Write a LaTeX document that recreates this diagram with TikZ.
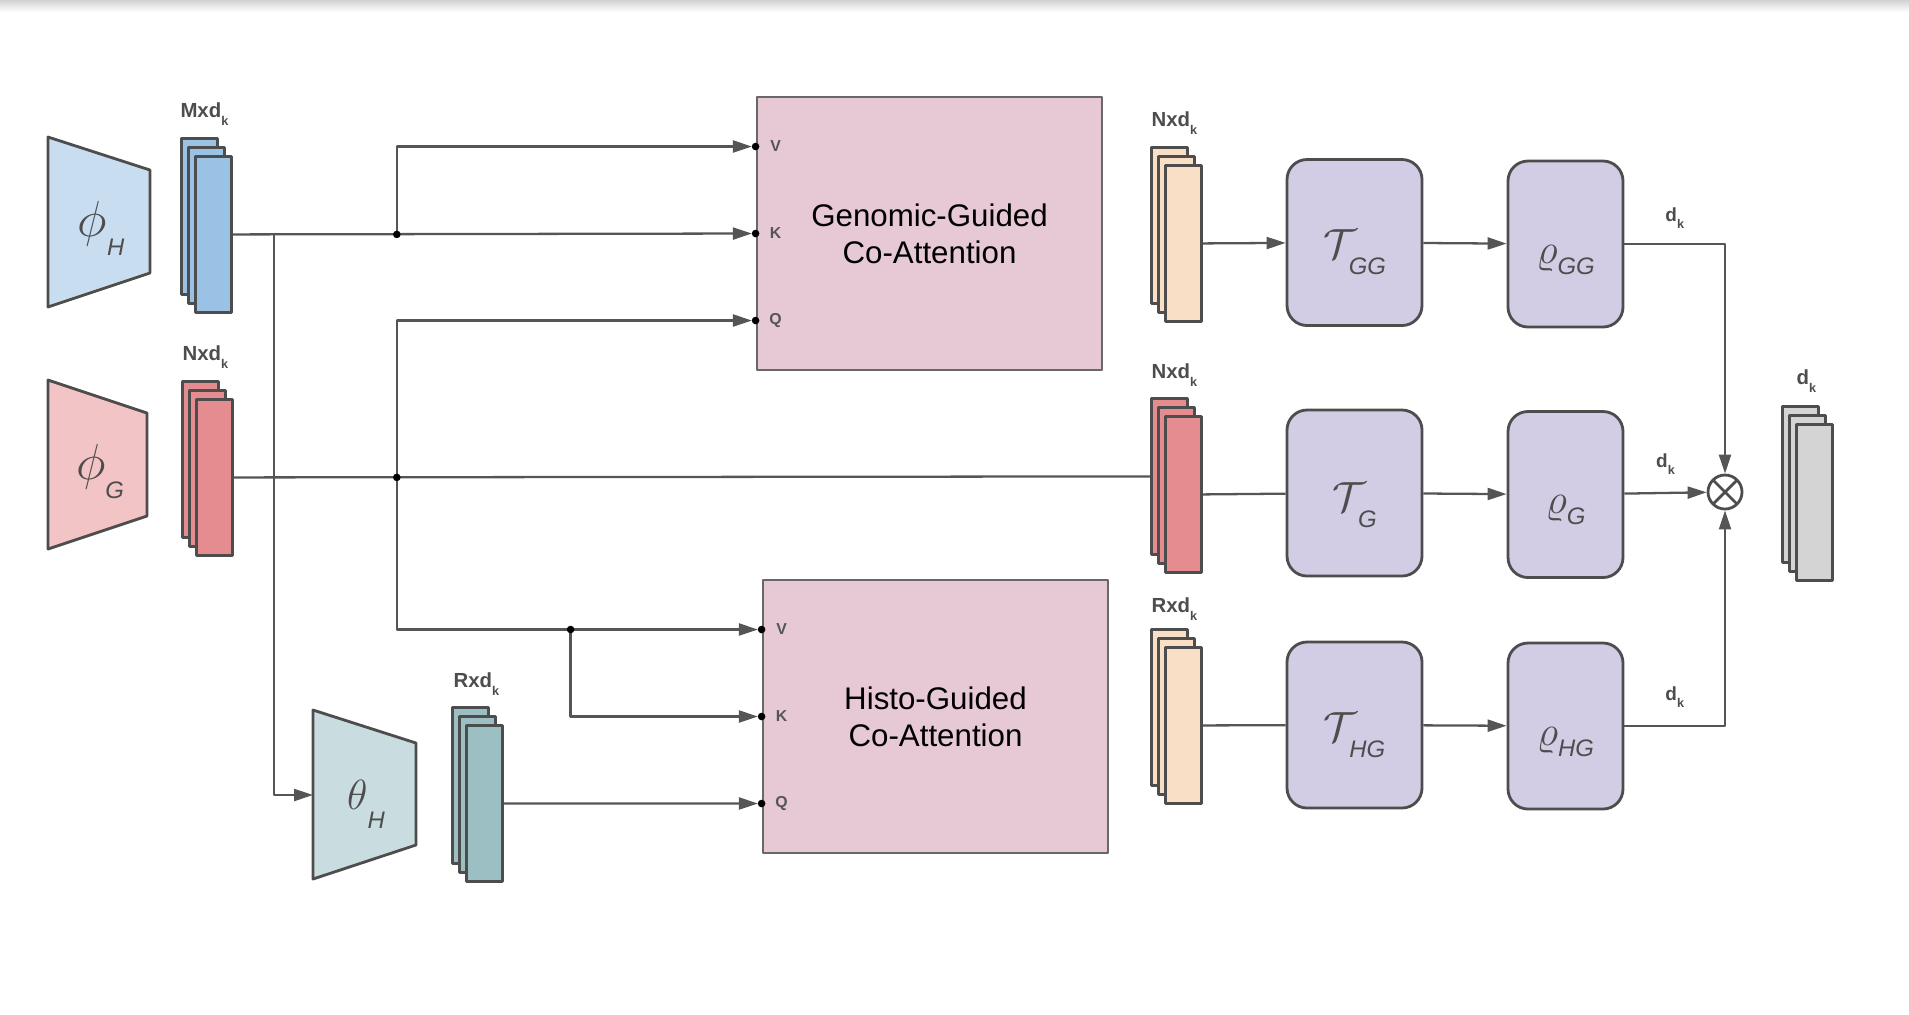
\documentclass[tikz,border=0pt]{standalone}
\usepackage{fontspec}
\setmainfont{Liberation Sans}
\usetikzlibrary{arrows.meta,calc,positioning}

\definecolor{linec}{HTML}{555555}
\definecolor{edgec}{HTML}{4D4D4D}
\definecolor{blutrap}{HTML}{C9DDF0}
\definecolor{blustk}{HTML}{9AC2E5}
\definecolor{redtrap}{HTML}{F2C4C6}
\definecolor{redstk}{HTML}{E48C8F}
\definecolor{teatrap}{HTML}{C9DDE1}
\definecolor{teastk}{HTML}{9BBFC3}
\definecolor{attc}{HTML}{E6C9D5}
\definecolor{peach}{HTML}{F9DFC6}
\definecolor{purp}{HTML}{D2CDE5}
\definecolor{graystk}{HTML}{D4D4D4}

% symbol with a lowered sans subscript
\newcommand\opsym[4]{{\fontsize{#1}{#1}\selectfont$#2$}\raisebox{#3}{\fontsize{6.8}{7}\selectfont\itshape #4}}
\newcommand\kk{\raisebox{-0.75mm}{\fontsize{3.6}{4}\selectfont k}}

\begin{document}
\begin{tikzpicture}[x=0.1mm, y=-0.1mm, line join=round, >={Triangle[length=1.9mm,width=1.2mm]},
    wire/.style={draw=linec, line width=0.65pt},
    trap/.style={draw=edgec, line width=0.8pt},
    layer/.style={draw=edgec, line width=0.8pt, minimum width=3.6mm, minimum height=15.6mm, inner sep=0pt, anchor=north west},
    coatt/.style={draw=edgec!85, fill=attc, line width=0.8pt, minimum width=34.5mm, minimum height=27.3mm, align=center, font=\fontsize{8.9}{10.6}\selectfont},
    opbox/.style={draw=edgec, fill=purp, line width=0.8pt, rounded corners=2mm, minimum height=16.6mm},
    oplbl/.style={text=edgec, inner sep=0pt},
    port/.style={font=\fontsize{4.5}{5}\selectfont\bfseries, text=linec, inner sep=0pt},
    dimlbl/.style={font=\fontsize{5.8}{6}\selectfont\bfseries, text=edgec, inner sep=0pt},
    dklbl/.style={font=\fontsize{5.4}{6}\selectfont\bfseries, text=edgec, inner sep=0pt}]
\useasboundingbox (0,0) rectangle (1909,1014);
\shade[top color=black!18, bottom color=white] (0,0) rectangle (1909,12);

% encoders
\draw[trap, fill=blutrap] (48,137) -- (150,170) -- (150,273) -- (48,307) -- cycle;
\node[oplbl] (phiH) at (101,228) {\opsym{14}{\phi}{-1.9mm}{H}};
\draw[trap, fill=redtrap] (48,380) -- (147,413) -- (147,516) -- (48,549) -- cycle;
\node[oplbl] (phiG) at (100,472) {\opsym{14}{\phi}{-1.9mm}{G}};
\draw[trap, fill=teatrap] (313,710) -- (416,743) -- (416,845) -- (313,879) -- cycle;
\node[oplbl] (thH) at (366,804) {\opsym{12.5}{\theta}{-1.9mm}{H}};
\coordinate (thIn) at (313,795);

% feature stacks
\foreach \i in {0,1,2} {
  \node[layer, fill=blustk] (mk\i) at (180+7*\i,137+9*\i) {};
  \node[layer, fill=redstk] (ng\i) at (181+7*\i,380+9*\i) {};
  \node[layer, fill=teastk] (rh\i) at (451+7*\i,706+9*\i) {};
  \node[layer, fill=peach] (ngg\i) at (1150+7*\i,146+9*\i) {};
  \node[layer, fill=redstk] (ngm\i) at (1150+7*\i,397+9*\i) {};
  \node[layer, fill=peach] (rhg\i) at (1150+7*\i,628+9*\i) {};
  \node[layer, fill=graystk] (fin\i) at (1781+7*\i,405+9*\i) {};
}
\node[dimlbl] (mklbl) at ($(mk0.north)+(5,-23)$) {Mxd\kk};
\node[dimlbl] (nglbl) at ($(ng0.north)+(5,-23)$) {Nxd\kk};
\node[dimlbl] (rhlbl) at ($(rh0.north)+(6,-22)$) {Rxd\kk};
\node[dimlbl] (ngglbl) at ($(ngg0.north)+(5,-23)$) {Nxd\kk};
\node[dimlbl] (ngmlbl) at ($(ngm0.north)+(5,-22)$) {Nxd\kk};
\node[dimlbl] (rhglbl) at ($(rhg0.north)+(5,-19)$) {Rxd\kk};
\node[dimlbl] (finlbl) at ($(fin0.north)+(6,-24)$) {d\kk};

% co-attention blocks
\node[coatt] (gga) at (929.5,233.5) {Genomic-Guided\\Co-Attention};
\node[coatt] (hga) at (935.5,716.5) {Histo-Guided\\Co-Attention};
\coordinate (ggV) at ($(gga.west)+(0,-87)$);
\coordinate (ggK) at (gga.west);
\coordinate (ggQ) at ($(gga.west)+(0,87)$);
\coordinate (hgV) at ($(hga.west)+(0,-87)$);
\coordinate (hgK) at (hga.west);
\coordinate (hgQ) at ($(hga.west)+(0,87)$);
\node[port] (ggVl) at ($(ggV)+(20,0)$) {V};
\node[port] (ggKl) at ($(ggK)+(20,0)$) {K};
\node[port] (ggQl) at ($(ggQ)+(20,0)$) {Q};
\node[port] (hgVl) at ($(hgV)+(20,0)$) {V};
\node[port] (hgKl) at ($(hgK)+(20,0)$) {K};
\node[port] (hgQl) at ($(hgQ)+(20,0)$) {Q};

% transformers and heads
\node[opbox, minimum width=13.5mm] (TGG) at (1354.5,242.5) {};
\node[opbox, minimum width=13.5mm] (TG) at (1354.5,493) {};
\node[opbox, minimum width=13.5mm] (THG) at (1354.5,725) {};
\node[opbox, minimum width=11.5mm] (rGG) at (1565.5,244) {};
\node[opbox, minimum width=11.5mm] (rG) at (1565.5,494.5) {};
\node[opbox, minimum width=11.5mm] (rHG) at (1565.5,726) {};
\node[oplbl] (TGGl) at ($(TGG)+(0,10)$) {\opsym{12.5}{\mathcal{T}}{-1.6mm}{\hspace{-0.8mm}GG}};
\node[oplbl] (TGl) at ($(TG)+(0,12)$) {\opsym{12.5}{\mathcal{T}}{-1.6mm}{\hspace{-0.8mm}G}};
\node[oplbl] (THGl) at ($(THG)+(0,10)$) {\opsym{12.5}{\mathcal{T}}{-1.6mm}{\hspace{-0.8mm}HG}};
\node[oplbl] (rGGl) at ($(rGG)+(0,16)$) {\opsym{12}{\varrho}{-1.1mm}{GG}};
\node[oplbl] (rGl) at ($(rG)+(0,16)$) {\opsym{12}{\varrho}{-1.1mm}{G}};
\node[oplbl] (rHGl) at ($(rHG)+(0,16)$) {\opsym{12}{\varrho}{-1.1mm}{HG}};

\node[circle, draw=edgec, line width=0.8pt, minimum size=3.4mm, inner sep=0pt,
  path picture={\draw[edgec, line width=0.8pt] (path picture bounding box.north west) -- (path picture bounding box.south east)
  (path picture bounding box.north east) -- (path picture bounding box.south west);}] (mul) at (1725,492) {};

% wiring on the left
\coordinate (j0) at ($(mk2.east)+(41,0)$);
\coordinate (j1) at ($(mk2.east)+(164,0)$);
\coordinate (j2) at ($(ng2.east)+(163,0)$);
\coordinate (j3) at ($(hgV)+(-191,0)$);
\draw[wire,->,shorten >=0.37mm] (mk2.east) -- (ggK);
\draw[wire,->,shorten >=0.37mm] (j1) |- (ggV);
\draw[wire,->] (j0) |- (thIn);
\draw[wire] (ng2.east) -- (ngm0.west);
\draw[wire,->,shorten >=0.37mm] (j2) |- (ggQ);
\draw[wire,->,shorten >=0.37mm] (j2) |- (hgV);
\draw[wire,->,shorten >=0.37mm] (j3) |- (hgK);
\draw[wire,->,shorten >=0.37mm] (rh2.east) -- (hgQ);
\foreach \p in {j1,j2,j3,ggV,ggK,ggQ,hgV,hgK,hgQ} \fill (\p) circle (0.38mm);

% wiring on the right
\draw[wire,->] (ngg2.east) -- (TGG);
\draw[wire,->] (TGG) -- (rGG);
\draw[wire,->] (rGG) -| node[dklbl, pos=0.25, above=1.4mm] (dk1) {d\kk} (mul);
\draw[wire] (ngm2.east) -- (TG);
\draw[wire,->] (TG) -- (rG);
\draw[wire,->] (rG) -- node[dklbl, above=1.7mm] (dk2) {d\kk} (mul);
\draw[wire] (rhg2.east) -- (THG);
\draw[wire,->] (THG) -- (rHG);
\draw[wire,->] (rHG) -| node[dklbl, pos=0.25, above=1.7mm] (dk3) {d\kk} (mul);
\end{tikzpicture}
\end{document}
